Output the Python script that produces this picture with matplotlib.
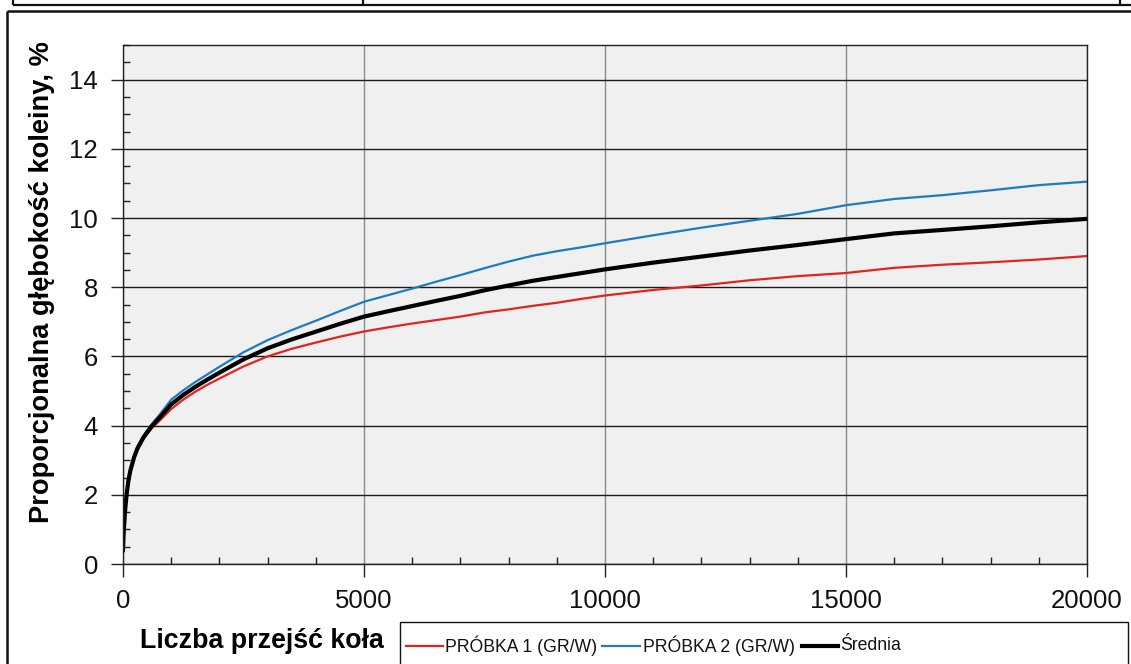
import matplotlib
matplotlib.use("Agg")
import matplotlib.pyplot as plt
from matplotlib.lines import Line2D
from matplotlib.patches import Rectangle
from matplotlib.ticker import MultipleLocator
from matplotlib import font_manager
import numpy as np

# Number of wheel passes and proportional rut depth (%) for both samples
passes = [0, 10, 25, 45, 75, 110, 150, 230, 300, 420, 500, 600, 750, 1000,
          1250, 1500, 1750, 2000, 2500, 3000, 3500, 4000, 4500, 5000, 5500,
          6000, 6500, 7000, 7500, 8000, 8500, 9000, 9500, 10000, 11000,
          12000, 13000, 14000, 15000, 16000, 17000, 18000, 19000, 20000]
probka1 = [0.40, 0.80, 1.12, 1.55, 1.98, 2.35, 2.65, 3.05, 3.30, 3.60, 3.75,
           3.93, 4.13, 4.48, 4.75, 4.98, 5.18, 5.36, 5.71, 6.00, 6.22, 6.40,
           6.57, 6.72, 6.84, 6.95, 7.05, 7.15, 7.27, 7.36, 7.46, 7.55, 7.66,
           7.76, 7.92, 8.05, 8.20, 8.32, 8.41, 8.56, 8.65, 8.72, 8.80, 8.90]
probka2 = [0.40, 0.82, 1.18, 1.60, 2.04, 2.42, 2.72, 3.12, 3.38, 3.70, 3.86,
           4.05, 4.30, 4.75, 5.02, 5.26, 5.48, 5.70, 6.12, 6.47, 6.76, 7.03,
           7.31, 7.58, 7.77, 7.96, 8.16, 8.35, 8.55, 8.74, 8.91, 9.04, 9.15,
           9.27, 9.50, 9.72, 9.92, 10.12, 10.37, 10.55, 10.66, 10.80, 10.95,
           11.05]
srednia = list((np.array(probka1) + np.array(probka2)) / 2)

series_labels = ["PRÓBKA 1 (GR/W)", "PRÓBKA 2 (GR/W)", "Średnia"]
x_label = "Liczba przejść koła"
y_label = "Proporcjonalna głębokość koleiny, %"

RED = "#e2231e"
BLUE = "#1f7bc0"
BLACK = "#000000"

W, H = 1131, 664
plt.rcParams["font.family"] = ["Liberation Sans", "DejaVu Sans"]
fig = plt.figure(figsize=(W / 100, H / 100), dpi=100)
fig.patch.set_facecolor("white")

# Legend font: a narrow face if one is present, otherwise a smaller regular one
available = {f.name for f in font_manager.fontManager.ttflist}
if "Liberation Sans Narrow" in available:
    legend_family, legend_size = ["Liberation Sans Narrow", "DejaVu Sans"], 16.0
else:
    legend_family, legend_size = ["Liberation Sans", "DejaVu Sans"], 12.7


def fx(x):
    return x / W


def fy(y):
    return 1 - y / H


ax = fig.add_axes([fx(123), fy(564), fx(1087) - fx(123), fy(45) - fy(564)])
ax.set_facecolor("#f0f0f0")
ax.set_axisbelow(True)

ax.plot(passes, probka1, color=RED, lw=1.6, solid_joinstyle="round")
ax.plot(passes, probka2, color=BLUE, lw=1.6, solid_joinstyle="round")
ax.plot(passes, srednia, color=BLACK, lw=3.0, solid_joinstyle="round")

ax.set_xlim(0, 20000)
ax.set_ylim(0, 15)
ax.xaxis.set_major_locator(MultipleLocator(5000))
ax.xaxis.set_minor_locator(MultipleLocator(1000))
ax.yaxis.set_major_locator(MultipleLocator(2))
ax.yaxis.set_minor_locator(MultipleLocator(0.5))

ax.tick_params(which="major", direction="out", length=9, width=1,
               labelsize=18.5, color="#222222", labelcolor="#111111")
ax.tick_params(axis="x", which="major", pad=9)
ax.tick_params(axis="y", which="major", pad=9)
ax.tick_params(which="minor", direction="in", length=5, width=1,
               color="#222222")

ax.yaxis.grid(True, which="major", color="#1a1a1a", lw=1.0)
ax.xaxis.grid(True, which="major", color="#8a8a8a", lw=1.0)
for s in ax.spines.values():
    s.set_color("#222222")
    s.set_linewidth(1.0)

# Axis titles
fig.text(fx(42), fy(282), y_label, rotation=90, ha="center", va="center",
         fontsize=19.6, fontweight="bold")
fig.text(fx(140), fy(641), x_label, ha="left", va="center",
         fontsize=19.3, fontweight="bold")

# Legend box with samples and mean
fig.add_artist(Rectangle((fx(400), fy(680)), fx(1128) - fx(400),
                         fy(622) - fy(680), transform=fig.transFigure,
                         facecolor="white", edgecolor="#111111", lw=1.0))
leg_y = fy(645.5)
legend_items = [
    (406, 443, 445, RED, 1.6, series_labels[0]),
    (602, 640, 643, BLUE, 1.6, series_labels[1]),
    (802, 838, 840, BLACK, 3.0, series_labels[2]),
]
for x0, x1, xt, col, lw, lab in legend_items:
    fig.add_artist(Line2D([fx(x0), fx(x1)], [leg_y, leg_y], color=col, lw=lw,
                          transform=fig.transFigure))
    fig.text(fx(xt), leg_y, lab, ha="left", va="center", fontsize=legend_size,
             family=legend_family, color="#111111")

# Surrounding frame lines
frame_kw = dict(color="#111111", transform=fig.transFigure, solid_capstyle="butt")
fig.add_artist(Line2D([fx(13), fx(1131)], [fy(5), fy(5)], lw=1.6, **frame_kw))
for xv in (13, 363, 1120):
    fig.add_artist(Line2D([fx(xv), fx(xv)], [fy(0), fy(5)], lw=1.6, **frame_kw))
fig.add_artist(Line2D([fx(7), fx(1131)], [fy(11), fy(11)], lw=1.8, **frame_kw))
fig.add_artist(Line2D([fx(7), fx(7)], [fy(11), fy(664)], lw=1.8, **frame_kw))

fig.savefig("out.png", dpi=100, facecolor="white")
